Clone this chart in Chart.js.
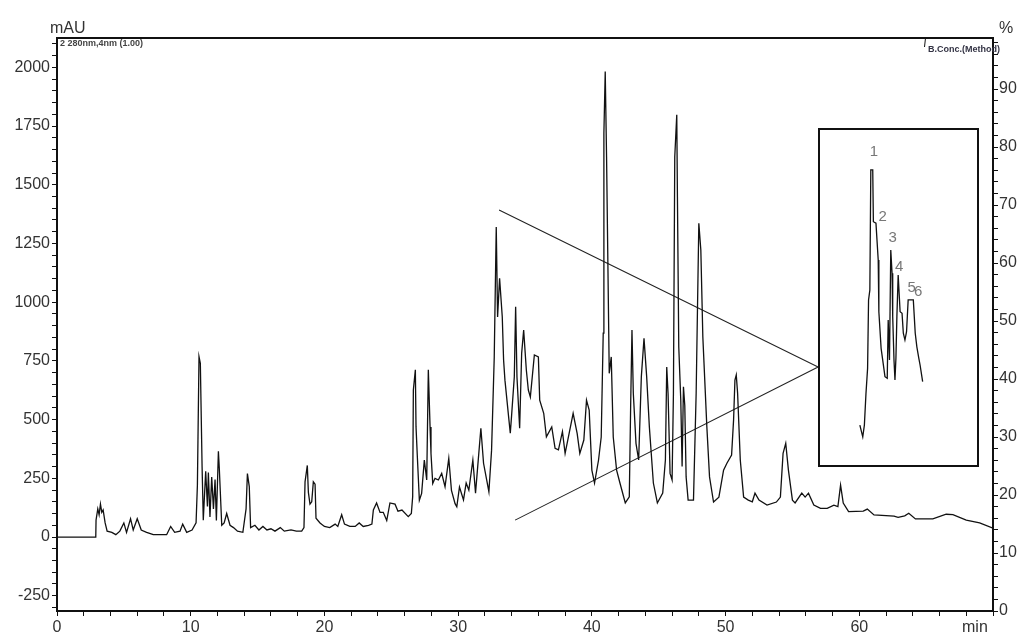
<!DOCTYPE html>
<html>
<head>
<meta charset="utf-8">
<title>Chromatogram</title>
<script src="https://cdn.jsdelivr.net/npm/chart.js@4.4.1/dist/chart.umd.min.js"></script>
<style>
  html, body { margin: 0; padding: 0; background: #fff; }
  #wrap { position: relative; width: 1018px; height: 634px; }
  #main { position: absolute; left: 0; top: 0; }
  #insetBox { position: absolute; left: 818px; top: 128px; width: 161px; height: 339px; }
</style>
</head>
<body>
<div id="wrap">
  <canvas id="main" width="1018" height="634"></canvas>
  <div id="insetBox"><canvas id="inset" width="161" height="339"></canvas></div>
</div>
<script>
// retention time (min) and absorbance (mAU)
const retentionTimes = [
  0, 2.9, 2.92, 3.05, 3.15, 3.25, 3.35, 3.45, 3.6, 3.75,
  4.1, 4.4, 4.7, 5.0, 5.2, 5.5, 5.7, 6.0, 6.3, 6.7,
  7.2, 8.2, 8.5, 8.8, 9.2, 9.4, 9.7, 10.1, 10.4, 10.5,
  10.62, 10.72, 10.85, 10.94, 11.05, 11.12, 11.25, 11.32, 11.44, 11.57,
  11.7, 11.82, 11.92, 12.07, 12.14, 12.32, 12.5, 12.69, 12.94, 13.2,
  13.5, 13.9, 14.14, 14.24, 14.38, 14.48, 14.8, 15.1, 15.4, 15.7,
  16.0, 16.3, 16.7, 17.0, 17.5, 17.9, 18.3, 18.47, 18.55, 18.72,
  18.8, 18.92, 19.05, 19.17, 19.3, 19.37, 19.67, 20.0, 20.4, 20.8,
  21.0, 21.29, 21.5, 21.9, 22.3, 22.6, 22.9, 23.3, 23.55, 23.66,
  23.9, 24.16, 24.4, 24.66, 24.9, 25.28, 25.5, 25.8, 26.27, 26.5,
  26.6, 26.65, 26.8, 26.85, 26.95, 27.1, 27.27, 27.47, 27.65, 27.77,
  27.9, 27.97, 28.1, 28.27, 28.52, 28.77, 29.02, 29.3, 29.5, 29.77,
  29.9, 30.1, 30.4, 30.6, 30.8, 31.1, 31.3, 31.7, 31.9, 32.3,
  32.5, 32.7, 32.85, 32.95, 33.1, 33.3, 33.4, 33.5, 33.8, 33.9,
  34.0, 34.2, 34.3, 34.4, 34.6, 34.75, 34.9, 35.1, 35.25, 35.4,
  35.7, 36.0, 36.1, 36.4, 36.6, 37.0, 37.25, 37.5, 37.8, 38.0,
  38.3, 38.6, 38.9, 39.1, 39.4, 39.6, 39.8, 40.0, 40.2, 40.5,
  40.7, 40.85, 40.9, 41.0, 41.1, 41.3, 41.45, 41.6, 41.85, 42.1,
  42.5, 42.8, 42.9, 43.0, 43.1, 43.3, 43.5, 43.7, 43.9, 44.1,
  44.3, 44.6, 44.9, 45.3, 45.5, 45.6, 45.7, 45.85, 46.0, 46.1,
  46.2, 46.35, 46.4, 46.5, 46.65, 46.75, 46.85, 46.95, 47.05, 47.2,
  47.6, 47.8, 48.0, 48.15, 48.3, 48.6, 48.8, 49.1, 49.5, 49.85,
  50.1, 50.45, 50.6, 50.7, 50.8, 50.9, 51.1, 51.35, 51.7, 52.0,
  52.2, 52.5, 53.1, 53.8, 54.1, 54.3, 54.5, 54.7, 55.0, 55.2,
  55.7, 55.95, 56.2, 56.6, 57.1, 57.6, 58.1, 58.4, 58.6, 58.8,
  59.2, 60.3, 60.6, 61.1, 62.6, 62.9, 63.4, 63.7, 64.2, 65.5,
  66.5, 67.0, 68.0, 69.0, 70.0
];
const absorbance = [
  0, 0, 72, 120, 95, 140, 105, 115, 60, 25,
  20, 10, 25, 60, 20, 78, 30, 78, 30, 20,
  10, 10, 45, 20, 25, 55, 20, 30, 60, 221,
  768, 740, 300, 72, 200, 280, 130, 275, 85, 255,
  120, 245, 70, 365, 290, 50, 60, 100, 50, 40,
  25, 20, 120, 270, 215, 40, 50, 30, 45, 30,
  35, 25, 40, 25, 30, 25, 25, 40, 235, 305,
  190, 140, 150, 235, 225, 80, 60, 45, 40, 55,
  45, 95, 55, 45, 45, 60, 45, 50, 55, 115,
  145, 105, 105, 70, 145, 140, 110, 115, 87, 100,
  172, 626, 712, 469, 341, 157, 186, 328, 243, 712,
  469, 355, 228, 250, 243, 271, 214, 335, 199, 142,
  129, 213, 158, 230, 200, 328, 187, 463, 314, 193,
  370, 767, 1320, 937, 1102, 937, 753, 668, 498, 442,
  519, 682, 980, 680, 463, 782, 881, 711, 626, 596,
  775, 767, 583, 527, 427, 469, 378, 371, 449, 356,
  441, 527, 441, 356, 413, 583, 541, 285, 230, 328,
  426, 868, 1719, 1982, 1618, 697, 767, 426, 285, 230,
  145, 171, 554, 881, 612, 399, 328, 682, 846, 682,
  469, 230, 145, 187, 328, 724, 610, 271, 243, 610,
  1618, 1798, 1448, 809, 583, 300, 640, 560, 256, 157,
  157, 612, 1336, 1222, 852, 469, 256, 149, 170, 285,
  314, 349, 500, 668, 690, 612, 328, 170, 157, 150,
  187, 157, 136, 149, 170, 356, 399, 285, 157, 145,
  187, 170, 187, 136, 122, 122, 136, 130, 221, 145,
  108, 110, 119, 94, 89, 84, 90, 101, 77, 77,
  97, 95, 72, 60, 38
];

// the two lines joining the zoomed region to the inset box
const zoomLineTimes = [33.06, 56.92, 34.26];
const zoomLineAbs = [1393, 724, 72];

// inset (enlarged part of the trace)
const insetTimes = [
  32.80, 32.89, 32.94, 32.99, 33.04, 33.07, 33.11, 33.14, 33.20, 33.22,
  33.30, 33.37, 33.39, 33.46, 33.51, 33.58, 33.65, 33.68, 33.72, 33.76,
  33.80, 33.82, 33.86, 33.89, 33.92, 33.95, 33.99, 34.05, 34.11, 34.15,
  34.20, 34.25, 34.30, 34.46, 34.49, 34.52, 34.57, 34.63, 34.67, 34.75
];
const insetAbs = [
  536, 498, 536, 639, 720, 942, 974, 1364, 1364, 1196,
  1191, 1072, 904, 785, 747, 693, 688, 877, 747, 1104,
  1029, 888, 747, 682, 753, 888, 1023, 904, 899, 834,
  812, 839, 942, 942, 888, 834, 790, 753, 731, 677
];
const peakNumbers = ['1', '2', '3', '4', '5', '6'];
const peakLabelTimes = [33.24, 33.51, 33.82, 34.02, 34.41, 34.61];
const peakLabelAbs = [1422, 1212, 1143, 1050, 981, 968];

// axes
const xTicks = [0, 10, 20, 30, 40, 50, 60, 70];
const leftTicks = [-250, 0, 250, 500, 750, 1000, 1250, 1500, 1750, 2000];
const rightTicks = [0, 10, 20, 30, 40, 50, 60, 70, 80, 90];
const channelLabel = '2 280nm,4nm (1.00)';
const gradientLabel = 'B.Conc.(Method)';

const FONT = '"Liberation Sans", Arial, sans-serif';

function minorTicks(from, to, step) {
  const out = [];
  for (let v = from; v <= to + 1e-9; v += step) out.push({ value: Math.round(v * 100) / 100 });
  return out;
}

function axis(extra) {
  return Object.assign({
    type: 'linear',
    grid: { drawOnChartArea: false, drawTicks: true, color: '#111', tickLength: 5, lineWidth: 1 },
    border: { display: true, color: '#111', width: 2 },
    ticks: { autoSkip: false, maxRotation: 0, color: '#333', font: { family: FONT, size: 16 }, padding: 2 }
  }, extra);
}

const mainDecor = {
  id: 'mainDecor',
  afterDraw(chart) {
    const { ctx, chartArea: a } = chart;
    ctx.save();
    ctx.strokeStyle = '#111';
    ctx.lineWidth = 2;
    ctx.beginPath();
    ctx.moveTo(a.left, a.top);
    ctx.lineTo(a.right, a.top);
    ctx.stroke();
    ctx.lineWidth = 1;
    ctx.beginPath();
    ctx.moveTo(925.5, a.top);
    ctx.lineTo(924.5, a.top + 9);
    ctx.stroke();

    ctx.fillStyle = '#333';
    ctx.font = '16px ' + FONT;
    ctx.textAlign = 'left';
    ctx.fillText('mAU', 50, 33);
    ctx.fillText('%', 999, 33);
    ctx.fillText('min', 962, 632);

    ctx.font = 'bold 9px ' + FONT;
    ctx.fillStyle = '#444';
    ctx.fillText(channelLabel, 60, 46);
    ctx.textAlign = 'right';
    ctx.fillStyle = '#334';
    ctx.fillText(gradientLabel, 1000, 52);
    ctx.restore();
  }
};

new Chart(document.getElementById('main'), {
  type: 'line',
  data: {
    datasets: [
      {
        label: 'trace',
        data: retentionTimes.map((t, i) => ({ x: t, y: absorbance[i] })),
        borderColor: '#111',
        borderWidth: 1.3,
        pointRadius: 0,
        tension: 0,
        yAxisID: 'y'
      },
      {
        label: 'zoom',
        data: zoomLineTimes.map((t, i) => ({ x: t, y: zoomLineAbs[i] })),
        borderColor: '#222',
        borderWidth: 1.1,
        pointRadius: 0,
        tension: 0,
        yAxisID: 'y'
      }
    ]
  },
  options: {
    responsive: false,
    animation: false,
    layout: { padding: { top: 38, left: 0, right: 0, bottom: 0 } },
    plugins: { legend: { display: false }, tooltip: { enabled: false } },
    scales: {
      x: axis({
        position: 'bottom', min: 0, max: 70,
        afterBuildTicks: s => { s.ticks = minorTicks(0, 70, 2); },
        afterFit: s => { s.height = 23; },
        ticks: Object.assign(axis({}).ticks, {
          callback: v => (xTicks.includes(v) && v !== 70 ? String(v) : '')
        })
      }),
      y: axis({
        position: 'left', min: -315, max: 2125,
        afterBuildTicks: s => { s.ticks = minorTicks(-300, 2100, 50); },
        afterFit: s => { s.width = 57; },
        ticks: Object.assign(axis({}).ticks, {
          callback: v => (leftTicks.includes(v) ? String(v) : '')
        })
      }),
      y2: axis({
        position: 'right', min: 0, max: 98.8,
        afterBuildTicks: s => { s.ticks = minorTicks(0, 98, 2); },
        afterFit: s => { s.width = 25; },
        ticks: Object.assign(axis({}).ticks, {
          padding: 1,
          callback: v => (rightTicks.includes(v) ? String(v) : '')
        })
      })
    }
  },
  plugins: [mainDecor]
});

const insetDecor = {
  id: 'insetDecor',
  afterDraw(chart) {
    const { ctx, scales } = chart;
    ctx.save();
    ctx.strokeStyle = '#111';
    ctx.lineWidth = 2;
    ctx.strokeRect(1, 1, chart.width - 2, chart.height - 2);
    ctx.fillStyle = '#777';
    ctx.font = '15px ' + FONT;
    ctx.textAlign = 'center';
    ctx.textBaseline = 'middle';
    peakNumbers.forEach((n, i) => {
      ctx.fillText(n, scales.x.getPixelForValue(peakLabelTimes[i]), scales.y.getPixelForValue(peakLabelAbs[i]));
    });
    ctx.restore();
  }
};

new Chart(document.getElementById('inset'), {
  type: 'line',
  data: {
    datasets: [{
      data: insetTimes.map((t, i) => ({ x: t, y: insetAbs[i] })),
      borderColor: '#111',
      borderWidth: 1.3,
      pointRadius: 0,
      tension: 0
    }]
  },
  options: {
    responsive: false,
    animation: false,
    layout: { padding: 0 },
    plugins: { legend: { display: false }, tooltip: { enabled: false } },
    scales: {
      x: { type: 'linear', display: false, min: 31.5, max: 36.5 },
      y: { type: 'linear', display: false, min: 400, max: 1500 }
    }
  },
  plugins: [insetDecor]
});
</script>
</body>
</html>
